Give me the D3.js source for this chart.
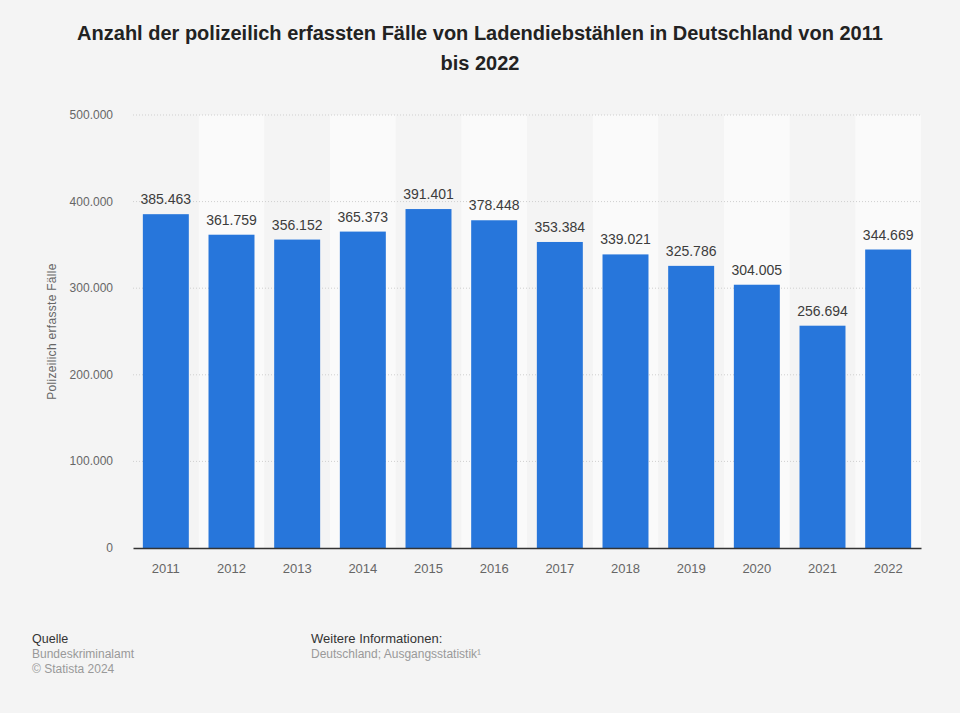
<!DOCTYPE html>
<html>
<head>
<meta charset="utf-8">
<script src="https://cdn.jsdelivr.net/npm/d3@7"></script>
<style>
  body { margin: 0; background: #f4f4f4; font-family: "Liberation Sans", Arial, sans-serif; }
</style>
</head>
<body>
<div id="chart"></div>
<script>
const years = ["2011","2012","2013","2014","2015","2016","2017","2018","2019","2020","2021","2022"];
const cases = [385463, 361759, 356152, 365373, 391401, 378448, 353384, 339021, 325786, 304005, 256694, 344669];
const yTicks = [0, 100000, 200000, 300000, 400000, 500000];

const width = 960, height = 713;
const margin = { left: 133, right: 39, top: 115, bottom: 165 };

const svg = d3.select("#chart").append("svg")
  .attr("width", width)
  .attr("height", height)
  .style("background", "#f4f4f4");

const fmt = d3.formatLocale({ decimal: ",", thousands: ".", grouping: [3], currency: ["", "€"] }).format(",");

const x = d3.scaleBand()
  .domain(years)
  .range([margin.left, width - margin.right]);

const y = d3.scaleLinear()
  .domain([0, 500000])
  .range([height - margin.bottom, margin.top]);

// title
svg.append("text")
  .attr("x", width / 2).attr("y", 40)
  .attr("text-anchor", "middle")
  .style("font-size", "20px").style("font-weight", "bold").style("fill", "#222")
  .text("Anzahl der polizeilich erfassten Fälle von Ladendiebstählen in Deutschland von 2011");
svg.append("text")
  .attr("x", width / 2).attr("y", 70)
  .attr("text-anchor", "middle")
  .style("font-size", "20px").style("font-weight", "bold").style("fill", "#222")
  .text("bis 2022");

// alternating bands
svg.append("g").selectAll("rect")
  .data(years.filter((d, i) => i % 2 === 1))
  .join("rect")
  .attr("x", d => x(d))
  .attr("y", y(500000))
  .attr("width", x.bandwidth())
  .attr("height", y(0) - y(500000))
  .attr("fill", "#fafafa");

// grid
svg.append("g").selectAll("line")
  .data(yTicks.slice(1))
  .join("line")
  .attr("x1", margin.left).attr("x2", width - margin.right)
  .attr("y1", d => y(d)).attr("y2", d => y(d))
  .attr("stroke", "#cfcfcf")
  .attr("stroke-dasharray", "1,2");

// y tick labels
svg.append("g").selectAll("text")
  .data(yTicks)
  .join("text")
  .attr("x", 113)
  .attr("y", d => y(d) + 4)
  .attr("text-anchor", "end")
  .style("font-size", "12px").style("fill", "#666")
  .text(d => fmt(d));

// y title
svg.append("text")
  .attr("transform", `translate(56,${(y(0) + y(500000)) / 2}) rotate(-90)`)
  .attr("text-anchor", "middle")
  .style("font-size", "12px").style("fill", "#666")
  .style("letter-spacing", "0.3px")
  .text("Polizeilich erfasste Fälle");

// bars
const barW = x.bandwidth() * 0.7;
svg.append("g").selectAll("rect")
  .data(years)
  .join("rect")
  .attr("x", d => x(d) + (x.bandwidth() - barW) / 2)
  .attr("y", (d, i) => y(cases[i]))
  .attr("width", barW)
  .attr("height", (d, i) => y(0) - y(cases[i]))
  .attr("fill", "#2776db");

// value labels
svg.append("g").selectAll("text")
  .data(years)
  .join("text")
  .attr("x", d => x(d) + x.bandwidth() / 2)
  .attr("y", (d, i) => y(cases[i]) - 10)
  .attr("text-anchor", "middle")
  .style("font-size", "14px").style("fill", "#3c3c3c")
  .text((d, i) => fmt(cases[i]));

// x axis
const xAxis = svg.append("g")
  .attr("transform", `translate(0,${y(0)})`)
  .call(d3.axisBottom(x).tickSize(0).tickPadding(16));
xAxis.select(".domain").attr("stroke", "#333").attr("stroke-width", 1.5);
xAxis.selectAll("text")
  .style("font-size", "13px").style("fill", "#666")
  .style("font-family", "'Liberation Sans', Arial, sans-serif");

// footer
const foot = svg.append("g").style("font-size", "12px");
foot.append("text").attr("x", 32).attr("y", 643).style("font-size", "12.5px").style("fill", "#333").text("Quelle");
foot.append("text").attr("x", 32).attr("y", 658).style("fill", "#999").text("Bundeskriminalamt");
foot.append("text").attr("x", 32).attr("y", 673).style("fill", "#999").text("© Statista 2024");
foot.append("text").attr("x", 311).attr("y", 643).style("font-size", "13px").style("fill", "#333").text("Weitere Informationen:");
foot.append("text").attr("x", 311).attr("y", 658).style("fill", "#999").text("Deutschland; Ausgangsstatistik¹");
</script>
</body>
</html>
